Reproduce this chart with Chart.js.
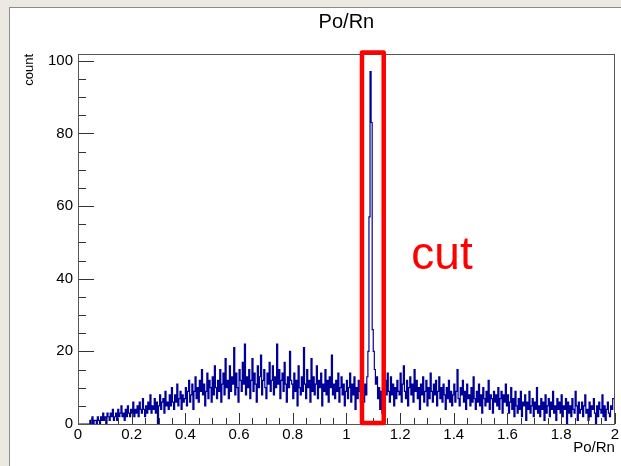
<!DOCTYPE html>
<html>
<head>
<meta charset="utf-8">
<script src="https://cdn.jsdelivr.net/npm/chart.js@4.4.0/dist/chart.umd.min.js"></script>
<style>
  body { margin: 0; background: #ece9e2; }
  #pad { position: absolute; left: 9px; top: 7px; width: 612px; height: 459px; background: #fff;
         border-left: 1px solid #8c8c8c; border-top: 1px solid #8c8c8c; }
</style>
</head>
<body>
<div id="pad"><canvas id="chart" width="611" height="458"></canvas></div>
<script>
// Po/Rn histogram, 500 bins from 0 to 2
const binWidth = 0.004;
const xRange = [0, 2];
const xTickLabels = ['0', '0.2', '0.4', '0.6', '0.8', '1', '1.2', '1.4', '1.6', '1.8', '2'];
const yTickLabels = ['0', '20', '40', '60', '80', '100'];

// 0.0 - 0.4
const countsA = [
  0,0,0,0,0,0,0,0,0,0,
  0,0,1,0,2,0,1,1,0,2,
  1,0,2,1,3,1,2,0,3,2,
  1,3,2,4,1,2,3,1,4,2,
  3,5,2,3,1,4,2,5,3,2,
  4,3,6,2,4,3,5,2,6,4,
  3,7,4,2,5,3,6,4,8,3,
  5,4,7,3,6,0,5,8,4,6,
  7,3,9,5,6,4,8,5,10,6,
  4,8,6,11,5,7,9,4,8,6
];
// 0.4 - 0.8
const countsB = [
  7,10,5,9,12,6,8,11,4,9,
  13,7,10,6,12,9,15,8,11,5,
  9,14,7,12,10,6,13,8,16,10,
  7,12,9,15,6,11,14,8,18,10,
  12,7,16,9,13,11,21,8,14,10,
  6,15,12,9,17,11,22,8,13,10,
  15,7,12,18,9,14,11,6,16,10,
  13,19,8,12,15,10,7,14,11,17,
  9,12,16,8,13,10,22,11,15,7,
  12,14,9,17,11,6,13,10,20,12
];
// 0.8 - 1.2 (peak near 1.09)
const countsC = [
  11,7,14,9,12,5,16,10,8,13,
  9,21,11,7,15,10,12,6,18,9,
  13,8,11,16,7,12,10,14,5,11,
  9,15,8,12,6,13,10,19,8,11,
  7,12,9,14,6,10,13,8,11,5,
  9,12,7,10,14,6,11,8,13,4,
  10,7,12,9,6,11,9,6,11,8,
  13,20,57,97,83,26,20,15,11,13,
  7,10,4,9,3,11,6,12,8,14,
  9,6,13,8,11,5,10,7,12,9
];
// 1.2 - 1.6
const countsD = [
  8,14,6,11,16,9,7,12,5,10,
  13,8,11,6,15,9,12,7,10,4,
  11,8,13,6,9,12,5,10,7,14,
  9,6,11,8,12,5,9,13,7,10,
  6,11,8,4,10,7,12,6,9,5,
  8,11,6,9,15,7,5,10,8,12,
  6,9,4,11,7,8,5,10,6,13,
  7,4,9,6,11,5,8,3,10,7,
  5,9,6,12,4,8,7,3,9,6,
  8,5,10,4,7,9,3,8,6,11
];
// 1.6 - 2.0
const countsE = [
  5,8,3,6,10,4,7,2,9,5,
  3,7,4,9,2,6,5,8,1,6,
  4,9,3,5,7,2,6,4,10,3,
  5,2,7,4,6,1,8,3,5,7,
  2,6,4,9,3,5,1,7,4,6,
  3,8,2,5,4,7,0,6,3,5,
  2,7,4,3,9,5,1,6,3,4,
  6,2,5,8,3,4,1,6,2,5,
  4,7,3,0,5,2,6,4,3,8,
  2,5,1,4,6,3,2,5,4,7
];

// the cut window drawn in red
const cutRange = [1.058, 1.139];
const cutLabel = 'cut';

const counts = [...countsA, ...countsB, ...countsC, ...countsD, ...countsE];
const points = counts.map((c, i) => ({ x: i * binWidth, y: c }));
points.push({ x: xRange[1], y: counts[counts.length - 1] });
const yMax = Math.max(...counts) * 1.05;

const font = 'Liberation Sans, Arial, Helvetica, sans-serif';

const rootStyle = {
  id: 'rootStyle',
  afterDatasetsDraw(chart) {
    const { ctx, chartArea: a, scales: { x, y } } = chart;
    ctx.save();
    ctx.strokeStyle = '#333';
    ctx.lineWidth = 1;
    // inward ticks, like ROOT
    for (let i = 0; i <= 40; i++) {
      const px = Math.round(x.getPixelForValue(i * 0.05)) + 0.5;
      ctx.beginPath();
      ctx.moveTo(px, a.bottom);
      ctx.lineTo(px, a.bottom - (i % 4 === 0 ? 11 : 6));
      ctx.stroke();
    }
    for (let i = 0; i <= 20; i++) {
      const py = Math.round(y.getPixelForValue(i * 5)) + 0.5;
      ctx.beginPath();
      ctx.moveTo(a.left, py);
      ctx.lineTo(a.left + (i % 4 === 0 ? 16 : 8), py);
      ctx.stroke();
    }
    ctx.strokeStyle = '#555';
    ctx.strokeRect(Math.round(a.left) + 0.5, Math.round(a.top) + 0.5,
                   Math.round(a.right - a.left) - 1, Math.round(a.bottom - a.top));
    ctx.restore();
  },
  afterDraw(chart) {
    const { ctx, chartArea: a, scales: { x, y } } = chart;
    ctx.save();
    ctx.fillStyle = '#000';
    ctx.textBaseline = 'middle';
    ctx.textAlign = 'center';
    ctx.font = '20px ' + font;
    ctx.fillText('Po/Rn', (a.left + a.right) / 2, 14);
    ctx.font = '15px ' + font;
    ctx.textAlign = 'right';
    ctx.fillText('Po/Rn', a.right, 440);
    ctx.save();
    ctx.translate(19, a.top);
    ctx.rotate(-Math.PI / 2);
    ctx.font = '13px ' + font;
    ctx.textAlign = 'right';
    ctx.fillText('count', 0, 0);
    ctx.restore();

    // red cut box
    const l = x.getPixelForValue(cutRange[0]);
    const r = x.getPixelForValue(cutRange[1]);
    const t = y.getPixelForValue(yMax) - 1.5;
    const b = y.getPixelForValue(0) - 1;
    ctx.strokeStyle = '#ff0000';
    ctx.lineWidth = 4.5;
    ctx.lineJoin = 'round';
    ctx.strokeRect(l, t, r - l, b - t);
    ctx.fillStyle = '#ff0000';
    ctx.font = '46px ' + font;
    ctx.textAlign = 'left';
    ctx.textBaseline = 'alphabetic';
    ctx.fillText(cutLabel, x.getPixelForValue(1.242), y.getPixelForValue(42.7));
    ctx.restore();
  }
};

new Chart(document.getElementById('chart'), {
  type: 'line',
  data: {
    datasets: [{
      label: 'Po/Rn',
      data: points,
      stepped: 'after',
      borderColor: '#000099',
      borderWidth: 1.2,
      pointRadius: 0,
      fill: false
    }]
  },
  options: {
    responsive: false,
    animation: false,
    layout: { padding: { top: 46, right: 5, left: 0, bottom: 0 } },
    plugins: { legend: { display: false }, tooltip: { enabled: false }, title: { display: false } },
    scales: {
      x: {
        type: 'linear', min: xRange[0], max: xRange[1],
        grid: { display: false, drawTicks: false },
        border: { display: false },
        afterFit: s => { s.height = 42; },
        afterBuildTicks: s => { s.ticks = xTickLabels.map(v => ({ value: Number(v) })); },
        ticks: {
          color: '#000', padding: 2, maxRotation: 0, autoSkip: false,
          font: { family: font, size: 15 },
          callback: (v, i) => xTickLabels[i]
        }
      },
      y: {
        min: 0, max: yMax,
        grid: { display: false, drawTicks: false },
        border: { display: false },
        afterFit: s => { s.width = 68; },
        afterBuildTicks: s => { s.ticks = yTickLabels.map(v => ({ value: Number(v) })); },
        ticks: {
          color: '#000', padding: 5,
          font: { family: font, size: 15 },
          callback: (v, i) => yTickLabels[i]
        }
      }
    }
  },
  plugins: [rootStyle]
});
</script>
</body>
</html>
